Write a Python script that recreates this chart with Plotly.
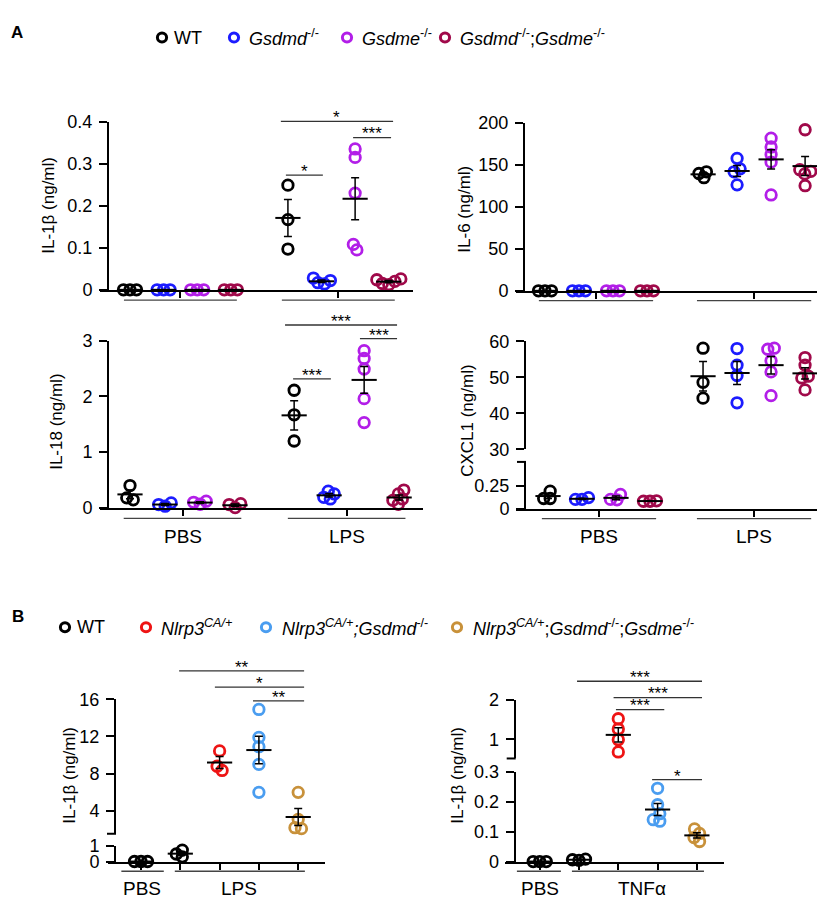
import numpy as np
import plotly.graph_objects as go

W, H = 825, 900
FONT = "Liberation Sans, Arial, Helvetica, sans-serif"

# ---------------- data (ng/ml) ----------------
genotypes_A = ["WT", "Gsdmd-/-", "Gsdme-/-", "Gsdmd-/-;Gsdme-/-"]
treatments_A = ["PBS", "LPS"]

il1b_pbs = [[0.0, 0.0, 0.0], [0.0, 0.0, 0.0], [0.0, 0.0, 0.0], [0.0, 0.0, 0.0]]
il1b_lps = [[0.249, 0.167, 0.097], [0.028, 0.022, 0.017, 0.014],
            [0.335, 0.315, 0.230, 0.108, 0.095], [0.026, 0.024, 0.020, 0.015, 0.012]]

il6_pbs = [[0.0, 0.0, 0.0], [0.0, 0.0, 0.0], [0.0, 0.0, 0.0], [0.0, 0.0, 0.0]]
il6_lps = [[134.5, 141.5, 139.5], [157.5, 145.0, 141.5, 126.0],
           [181.5, 171.0, 162.0, 153.0, 114.0], [191.5, 144.0, 142.0, 139.0, 125.0]]

il18_pbs = [[0.40, 0.18, 0.145], [0.03, 0.09, 0.06], [0.065, 0.12, 0.10], [0.005, 0.075, 0.06]]
il18_lps = [[2.11, 1.67, 1.20], [0.30, 0.25, 0.19, 0.16],
            [2.82, 2.68, 2.49, 1.96, 1.53], [0.32, 0.25, 0.16, 0.135, 0.065]]

cxcl1_pbs = [[0.19, 0.11, 0.11], [0.10, 0.12, 0.10], [0.095, 0.155, 0.10], [0.08, 0.085, 0.08]]
cxcl1_lps = [[58.1, 48.6, 44.2], [58.0, 53.4, 50.5, 42.9],
             [58.1, 57.8, 54.6, 51.5, 44.9], [55.5, 53.4, 50.3, 49.8, 46.5]]

groups_B = ["WT", "WT", "Nlrp3CA/+", "Nlrp3CA/+;Gsdmd-/-", "Nlrp3CA/+;Gsdmd-/-;Gsdme-/-"]
il1b_B_lps = [[0.0, 0.0, 0.0], [0.73, 0.48, 0.30], [10.45, 8.8, 8.35],
              [14.9, 11.9, 10.9, 9.0, 6.0], [6.0, 3.1, 2.2, 2.1]]
il1b_B_tnf = [[0.0, 0.0, 0.0], [0.008, 0.004, 0.006], [1.52, 1.26, 0.99, 0.68],
              [0.245, 0.19, 0.16, 0.14, 0.135], [0.109, 0.094, 0.080, 0.067]]

# ---------------- styles ----------------
colors_A = ["#000000", "#1c1cff", "#b21ee8", "#a0094a"]
colors_B = ["#000000", "#000000", "#ee1414", "#4a9df0", "#c8913a"]


def px2x(px):
    return px / W


def px2y(py):
    return 1 - py / H


fig = go.Figure()

common = dict(showline=True, linecolor="black", linewidth=2, ticks="outside",
              tickcolor="black", tickwidth=2, showgrid=False, zeroline=False,
              tickfont=dict(family=FONT, size=18, color="black"), fixedrange=True)


def swarm(vals, ppu, thr=6.5, step_px=0.5):
    """Beeswarm offsets (in px) so that circles do not pile up."""
    order = sorted(range(len(vals)), key=lambda i: vals[i])
    placed = {}
    for n, i in enumerate(order):
        y = vals[i] * ppu
        k = 0
        found = None
        while found is None:
            if k == 0:
                cands = [0.0]
            elif n % 2:
                cands = [-k * step_px, k * step_px]
            else:
                cands = [k * step_px, -k * step_px]
            for x in cands:
                if all((x - px) ** 2 + (y - py) ** 2 >= thr * thr for px, py in placed.values()):
                    found = x
                    break
            k += 1
        placed[i] = (found, y)
    idx = list(placed)
    comp = {i: i for i in idx}

    def root(i):
        while comp[i] != i:
            i = comp[i]
        return i
    for a in idx:
        for b in idx:
            if a < b:
                (xa, ya), (xb, yb) = placed[a], placed[b]
                if (xa - xb) ** 2 + (ya - yb) ** 2 < (thr * 1.25) ** 2:
                    comp[root(a)] = root(b)
    groups = {}
    for i in idx:
        groups.setdefault(root(i), []).append(i)
    offs = [0.0] * len(vals)
    for members in groups.values():
        mx = np.mean([placed[i][0] for i in members])
        for i in members:
            offs[i] = placed[i][0] - mx
    return offs


def add_group(xa, ya, center, vals, color, ppu, step):
    offs = swarm(vals, ppu)
    xs = [center + o / step for o in offs]
    fig.add_trace(go.Scatter(
        x=xs, y=vals, xaxis=xa, yaxis=ya, mode="markers", cliponaxis=False,
        showlegend=False, hoverinfo="skip",
        marker=dict(symbol="circle-open", size=10.5, color=color,
                    line=dict(width=2.8, color=color))))
    m = float(np.mean(vals))
    s = float(np.std(vals, ddof=1) / np.sqrt(len(vals)))
    fig.add_trace(go.Scatter(
        x=[center], y=[m], xaxis=xa, yaxis=ya, mode="markers", cliponaxis=False,
        showlegend=False, hoverinfo="skip",
        marker=dict(symbol="line-ew-open", size=18, color="black",
                    line=dict(width=2, color="black")),
        error_y=dict(type="data", array=[s], width=4, thickness=1.5, color="black")))


def yaxis_def(top_px, bot_px, rng, tickvals, pos_px):
    return dict(domain=[px2y(bot_px), px2y(top_px)], range=rng, anchor="free",
                position=px2x(pos_px), tickvals=tickvals,
                ticktext=[("%g" % v) for v in tickvals],
                ticklen=8, ticklabelstandoff=3, **common)


def xaxis_def(px0, px1, first, step, tickvals, anchor):
    return dict(domain=[px2x(px0), px2x(px1)],
                range=[(px0 - first) / step, (px1 - first) / step],
                anchor=anchor, tickvals=tickvals, showticklabels=False,
                ticklen=6, **common)


shapes = []
annotations = []


def text(x, y, s, size=17, xref="paper", yref="paper", **kw):
    annotations.append(dict(x=x, y=y, xref=xref, yref=yref, text=s, showarrow=False,
                            font=dict(family=FONT, size=size, color="black"), **kw))


def hline(xref, x0, x1, ypx, color="#444444", width=1.4):
    shapes.append(dict(type="line", xref=xref, yref="paper", x0=x0, x1=x1,
                       y0=px2y(ypx), y1=px2y(ypx), line=dict(color=color, width=width)))


def break_tick(axis_px, ypx):
    shapes.append(dict(type="line", xref="paper", yref="paper",
                       x0=px2x(axis_px - 8), x1=px2x(axis_px + 1),
                       y0=px2y(ypx), y1=px2y(ypx), line=dict(color="black", width=2)))


def sig(xref, x0, x1, ypx, label):
    hline(xref, x0, x1, ypx, color="#333333", width=1.3)
    text((x0 + x1) / 2, px2y(ypx + 8), label, size=17, xref=xref, yanchor="bottom",
         xanchor="center")


layout_axes = {}

# ---------------- Panel A ----------------
panels_A = [
    dict(xa="x", ya="y", x_px=(92, 405), first=122, step=33.6, lps=4.70, ypos=100,
         low=(106, 278, [0, 0.4], [0, 0.1, 0.2, 0.3, 0.4]),
         high=None, data=(il1b_pbs, il1b_lps), under=288.5, labels=False,
         title="IL-1β (ng/ml)", title_px=(41, 192)),
    dict(xa="x2", ya="y2", x_px=(92, 415), first=122, step=35.0, lps=4.69, ypos=100,
         low=(330, 501, [0, 3], [0, 1, 2, 3]),
         high=None, data=(il18_pbs, il18_lps), under=511.7, labels=True,
         title="IL-18 (ng/ml)", title_px=(49, 413)),
    dict(xa="x3", ya="y3", x_px=(508, 819), first=537, step=34.0, lps=4.65, ypos=516,
         low=(107, 279, [0, 200], [0, 50, 100, 150, 200]),
         high=None, data=(il6_pbs, il6_lps), under=289, labels=False,
         title="IL-6 (ng/ml)", title_px=(457, 196)),
    dict(xa="x4", ya="y4", yb="y5", x_px=(508, 819), first=540, step=34.0, lps=4.56, ypos=517,
         low=(454, 501.7, [0, 0.51], [0, 0.25]),
         high=(330.7, 441, [30, 60], [30, 40, 50, 60]),
         data=(cxcl1_pbs, cxcl1_lps), under=512, labels=True,
         title="CXCL1 (ng/ml)", title_px=(460, 412)),
]

for p in panels_A:
    first, step, lps = p["first"], p["step"], p["lps"]
    xa, ya = p["xa"], p["ya"]
    yb = p.get("yb")
    lt, lb, lr, ltv = p["low"]
    ppu_low = (lb - lt) / (lr[1] - lr[0])
    layout_axes[xa.replace("x", "xaxis")] = xaxis_def(p["x_px"][0], p["x_px"][1], first, step,
                                                     [1.5, lps + 1.5], ya)
    layout_axes[ya.replace("y", "yaxis")] = yaxis_def(lt, lb, lr, ltv, p["ypos"])
    ppu_high = ppu_low
    if yb:
        ht, hb, hr, htv = p["high"]
        ppu_high = (hb - ht) / (hr[1] - hr[0])
        layout_axes[yb.replace("y", "yaxis")] = yaxis_def(ht, hb, hr, htv, p["ypos"])
        break_tick(p["ypos"], lt)
    pbs, lpsd = p["data"]
    for g in range(4):
        add_group(xa, ya, g, pbs[g], colors_A[g], ppu_low, step)
        add_group(xa, yb if yb else ya, lps + g, lpsd[g], colors_A[g],
                  ppu_high if yb else ppu_low, step)
    for c in (1.5, lps + 1.5):
        hline(xa, c - 1.68, c + 1.68, p["under"])
    if p["labels"]:
        for c, lab in zip((1.5, lps + 1.5), treatments_A):
            text(c, px2y(530), lab, size=19, xref=xa, yanchor="middle", xanchor="center")
    text(px2x(p["title_px"][0]), px2y(p["title_px"][1]), p["title"], textangle=-90,
         xanchor="center", yanchor="middle")

# significance bars panel A
for x0, x1, ypx, lab in [(4.49, 7.83, 105.7, "*"), (6.64, 7.77, 122.3, "***"),
                         (4.64, 5.74, 160.7, "*")]:
    sig("x", x0, x1, ypx, lab)
for x0, x1, ypx, lab in [(4.43, 7.63, 314, "***"), (6.57, 7.63, 328, "***"),
                         (4.66, 5.74, 369, "***")]:
    sig("x2", x0, x1, ypx, lab)

# ---------------- Panel B ----------------
panels_B = [
    dict(xa="x5", ya="y6", yb="y7", x_px=(100, 317), first=133, step=39.3, ypos=107,
         low=(846.7, 862.7, [0, 1], [0, 1]),
         high=(696.7, 834.3, [1.55, 16], [4, 8, 12, 16]),
         data=il1b_B_lps, under=[(-0.5, 0.58), (0.86, 4.17)],
         labels=[(0.03, "PBS"), (2.5, "LPS")], title_px=(62, 775)),
    dict(xa="x6", ya="y8", yb="y9", x_px=(497, 716), first=531.7, step=39.3, ypos=506.7,
         low=(771, 862.7, [0, 0.3], [0, 0.1, 0.2, 0.3]),
         high=(697.3, 757.3, [0.515, 2], [1, 2]),
         data=il1b_B_tnf, under=[(-0.58, 0.54), (0.82, 4.18)],
         labels=[(0.0, "PBS"), (2.6, "TNFα")], title_px=(450, 774)),
]

for p in panels_B:
    first, step = p["first"], p["step"]
    xa, ya, yb = p["xa"], p["ya"], p["yb"]
    lt, lb, lr, ltv = p["low"]
    ht, hb, hr, htv = p["high"]
    ppu_low = (lb - lt) / (lr[1] - lr[0])
    ppu_high = (hb - ht) / (hr[1] - hr[0])
    layout_axes[xa.replace("x", "xaxis")] = xaxis_def(p["x_px"][0], p["x_px"][1], first, step,
                                                     [0, 1, 2, 3, 4], ya)
    layout_axes[ya.replace("y", "yaxis")] = yaxis_def(lt, lb, lr, ltv, p["ypos"])
    layout_axes[yb.replace("y", "yaxis")] = yaxis_def(ht, hb, hr, htv, p["ypos"])
    break_tick(p["ypos"], hb)
    for g, vals in enumerate(p["data"]):
        on_high = float(np.mean(vals)) > hr[0]
        add_group(xa, yb if on_high else ya, g, vals, colors_B[g],
                  ppu_high if on_high else ppu_low, step)
    for a, b in p["under"]:
        hline(xa, a, b, 872.7)
    for c, lab in p["labels"]:
        text(c, px2y(890), lab, size=19, xref=xa, yanchor="middle", xanchor="center")
    text(px2x(p["title_px"][0]), px2y(p["title_px"][1]), "IL-1β (ng/ml)", textangle=-90,
         xanchor="center", yanchor="middle")

for x0, x1, ypx, lab in [(0.97, 4.15, 667.7, "**"), (1.88, 4.15, 684.3, "*"),
                         (2.85, 4.15, 698.3, "**")]:
    sig("x5", x0, x1, ypx, lab)
for x0, x1, ypx, lab in [(0.95, 4.13, 678.3, "***"), (1.88, 4.13, 695, "***"),
                         (1.94, 3.17, 707.3, "***"), (2.86, 4.13, 779, "*")]:
    sig("x6", x0, x1, ypx, lab)

# ---------------- legends ----------------
legend_A = ["WT", "<i>Gsdmd</i><sup>-/-</sup>", "<i>Gsdme</i><sup>-/-</sup>",
            "<i>Gsdmd</i><sup>-/-</sup>;<i>Gsdme</i><sup>-/-</sup>"]
legend_A_px = [(154, 164), (226, 239), (339, 352), (437, 450)]
legend_B = ["WT", "<i>Nlrp3</i><sup><i>CA/+</i></sup>",
            "<i>Nlrp3</i><sup><i>CA/+</i></sup><i>;Gsdmd</i><sup>-/-</sup>",
            "<i>Nlrp3</i><sup><i>CA/+</i></sup>;<i>Gsdmd</i><sup>-/-</sup>;<i>Gsdme</i><sup>-/-</sup>"]
legend_B_px = [(57, 67), (138, 151), (258, 272), (449, 463)]


def legend_row(labels, cols, pos, ypx):
    for lab, col, (mx, tx) in zip(labels, cols, pos):
        r = 4.6
        shapes.append(dict(type="circle", xref="paper", yref="paper",
                           x0=px2x(mx - r), x1=px2x(mx + r), y0=px2y(ypx + r), y1=px2y(ypx - r),
                           line=dict(color=col, width=3)))
        text(px2x(tx), px2y(ypx), lab, size=18, xanchor="left", yanchor="middle")


legend_row(legend_A, colors_A, legend_A_px, 20)
legend_row(legend_B, [colors_B[0]] + colors_B[2:], legend_B_px, 623)

text(px2x(9), px2y(15), "<b>A</b>", size=17, xanchor="center", yanchor="middle")
text(px2x(9.5), px2y(612), "<b>B</b>", size=17, xanchor="center", yanchor="middle")

fig.update_layout(
    width=W, height=H, autosize=False,
    margin=dict(l=0, r=0, t=0, b=0),
    paper_bgcolor="white", plot_bgcolor="white",
    font=dict(family=FONT, size=17, color="black"),
    showlegend=False,
    shapes=shapes, annotations=annotations,
    **layout_axes,
)

fig.write_html("out.html")
